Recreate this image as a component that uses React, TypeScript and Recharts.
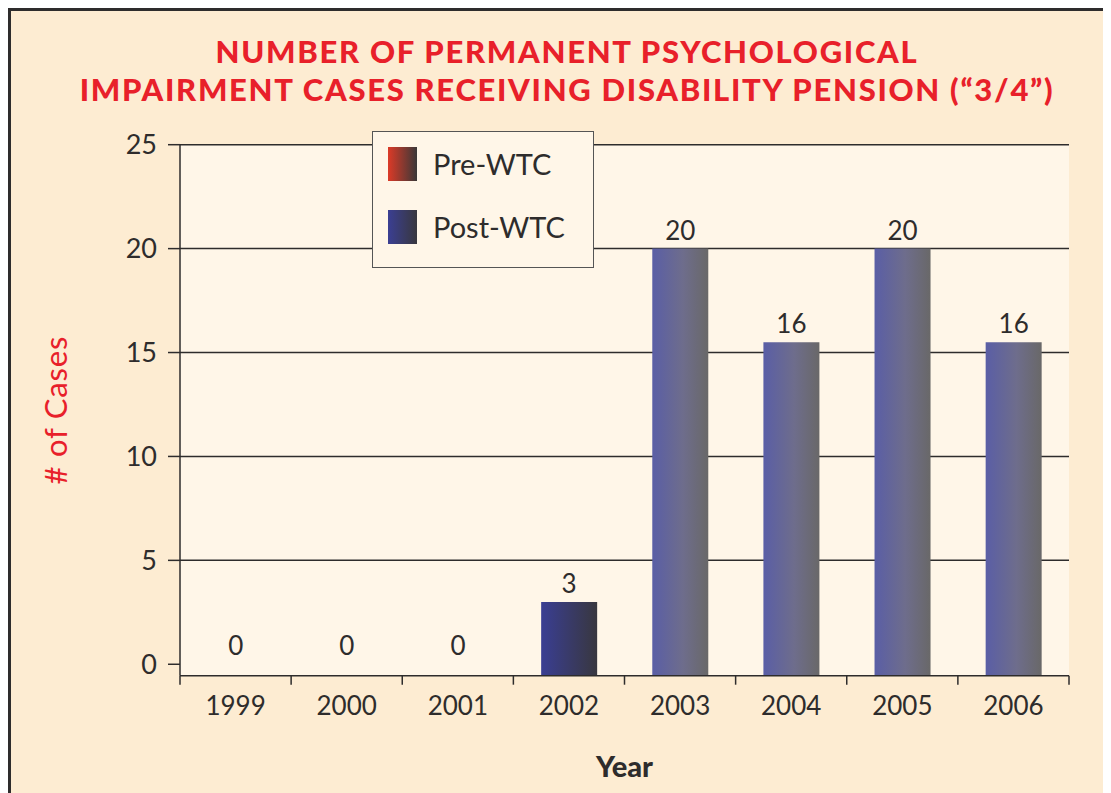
import { BarChart, Bar, XAxis, YAxis, CartesianGrid, Cell, LabelList, Legend } from 'recharts'

const years = ['1999', '2000', '2001', '2002', '2003', '2004', '2005', '2006']
// bar heights as drawn, and the numbers printed above them
const postWtc = [0, 0, 0, 3, 20, 15.5, 20, 15.5]
const printed = ['0', '0', '0', '3', '20', '16', '20', '16']
const yTicks = [0, 5, 10, 15, 20, 25]
const gridValues = [5, 10, 15, 20, 25]
const legendItems = [
  { name: 'Pre-WTC', from: '#dc3a27', to: '#3a3838' },
  { name: 'Post-WTC', from: '#3b3f93', to: '#38373d' },
]

// the value axis sits a little below zero in the original
const FLOOR = -0.55

const data = years.map((year, i) => ({
  year,
  range: [FLOOR, postWtc[i]],
  label: printed[i],
}))

const ink = '#2e2c2c'
const red = '#e8202a'
const TICK_GAP = 21

// year label with tick marks on the category edges instead of the centre
function YearTick(props: any) {
  const { x, y, payload, index, visibleTicksCount } = props
  const half = payload.offset ?? 0
  const top = y - TICK_GAP
  return (
    <g>
      <line x1={x - half} x2={x - half} y1={top} y2={top + 9} stroke={ink} strokeWidth={1.5} />
      {index === visibleTicksCount - 1 && (
        <line x1={x + half} x2={x + half} y1={top} y2={top + 9} stroke={ink} strokeWidth={1.5} />
      )}
      <text x={x} y={y} dy="0.71em" textAnchor="middle" fill={ink} fontSize={26} fontFamily="Lato">
        {payload.value}
      </text>
    </g>
  )
}

function LegendBox() {
  return (
    <div style={{
      width: 220, height: 135, background: '#fff6e8', border: '1.5px solid #555',
      fontFamily: 'Lato', color: ink, position: 'relative',
    }}>
      {legendItems.map((item, i) => (
        <div key={item.name} style={{ position: 'absolute', left: 15, top: 14 + i * 63, display: 'flex', alignItems: 'center' }}>
          <div style={{ width: 29, height: 34, background: `linear-gradient(to right, ${item.from}, ${item.to})` }} />
          <span style={{ marginLeft: 16, fontSize: 29 }}>{item.name}</span>
        </div>
      ))}
    </div>
  )
}

export default function App() {
  return (
    <div style={{
      position: 'relative', width: 1100, height: 782, background: '#fdecd2',
      borderLeft: `3px solid ${ink}`, borderTop: `3px solid ${ink}`,
    }}>
      <div style={{
        position: 'absolute', left: 0, top: 21, width: 1112, textAlign: 'center',
        color: red, fontFamily: 'Lato', fontWeight: 900, fontSize: 31, lineHeight: '38px',
        letterSpacing: 1.7,
      }}>
        NUMBER OF PERMANENT PSYCHOLOGICAL<br />
        IMPAIRMENT CASES RECEIVING DISABILITY PENSION (“3/4”)
      </div>
      <BarChart
        width={1100}
        height={782}
        data={data}
        margin={{ top: 133.7, right: 42, bottom: 17.3, left: 0 }}
        barCategoryGap="25%"
        style={{ position: 'absolute', left: 0, top: 0, fontFamily: 'Lato' }}
      >
        <defs>
          <linearGradient id="postDark" x1="0" y1="0" x2="1" y2="0">
            <stop offset="0%" stopColor="#3a3e93" />
            <stop offset="100%" stopColor="#38373f" />
          </linearGradient>
          <linearGradient id="postLight" x1="0" y1="0" x2="1" y2="0">
            <stop offset="0%" stopColor="#5a5ea6" />
            <stop offset="55%" stopColor="#6e6d8c" />
            <stop offset="100%" stopColor="#696868" />
          </linearGradient>
        </defs>
        <CartesianGrid
          vertical={false}
          horizontalValues={gridValues}
          stroke={ink}
          strokeWidth={1.5}
          fill="#fff6e8"
          fillOpacity={1}
        />
        <XAxis
          dataKey="year"
          height={100}
          axisLine={{ stroke: ink, strokeWidth: 1.5 }}
          tickLine={false}
          tickSize={0}
          tickMargin={TICK_GAP}
          interval={0}
          tick={(p: any) => <YearTick {...p} />}
          label={({ viewBox }: any) => (
            <text
              x={viewBox.x + viewBox.width / 2}
              y={viewBox.y + 101}
              textAnchor="middle"
              fill={ink}
              fontSize={29}
              fontWeight={900}
              fontFamily="Lato"
            >
              Year
            </text>
          )}
        />
        <YAxis
          domain={[FLOOR, 25]}
          ticks={yTicks}
          width={169}
          allowDataOverflow
          axisLine={{ stroke: ink, strokeWidth: 1.5 }}
          tickLine={{ stroke: ink, strokeWidth: 1.5 }}
          tickSize={12}
          tickMargin={11}
          tick={{ fill: ink, fontSize: 27 }}
          label={({ viewBox }: any) => {
            const cx = viewBox.x + 44
            const cy = viewBox.y + viewBox.height / 2
            return (
              <text
                x={cx}
                y={cy}
                transform={`rotate(-90, ${cx}, ${cy})`}
                textAnchor="middle"
                dominantBaseline="central"
                fill={red}
                fontSize={31}
                letterSpacing={0.8}
                fontFamily="Lato"
              >
                # of Cases
              </text>
            )
          }}
        />
        <YAxis
          yAxisId="right"
          orientation="right"
          width={0}
          domain={[0, 1]}
          tick={false}
          tickLine={false}
          axisLine={{ stroke: ink, strokeWidth: 1.5 }}
        />
        <Legend
          layout="vertical"
          align="center"
          verticalAlign="middle"
          content={() => <LegendBox />}
          wrapperStyle={{ left: 361, top: 120, width: 224, height: 140 }}
        />
        <Bar dataKey="range" name="Post-WTC" isAnimationActive={false}>
          {data.map((d, i) => (
            <Cell
              key={d.year}
              fill={postWtc[i] === 0 ? 'none' : postWtc[i] < 5 ? 'url(#postDark)' : 'url(#postLight)'}
            />
          ))}
          <LabelList dataKey="label" position="top" offset={9} fill={ink} fontSize={26} />
        </Bar>
      </BarChart>
    </div>
  )
}
